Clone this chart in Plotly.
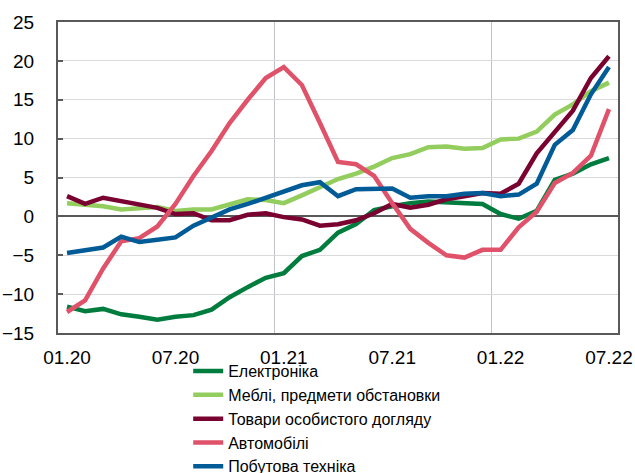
import plotly.graph_objects as go

# Month categories 01.20 .. 07.22
months = [f"{m:02d}.{y}" for y in (20, 21, 22) for m in range(1, 13)][:31]
tick_labels = ["01.20", "07.20", "01.21", "07.21", "01.22", "07.22"]

electronics = [-11.6, -12.2, -11.9, -12.6, -12.9, -13.3, -12.9, -12.7, -12.0, -10.4,
               -9.1, -7.9, -7.3, -5.1, -4.3, -2.1, -1.0, 0.8, 1.3, 1.7,
               1.9, 1.8, 1.7, 1.6, 0.3, -0.3, 0.7, 4.7, 5.5, 6.7, 7.5]
furniture = [1.7, 1.5, 1.3, 0.9, 1.0, 1.2, 0.7, 0.9, 0.9, 1.5,
             2.2, 2.1, 1.7, 2.7, 3.8, 4.8, 5.5, 6.4, 7.5, 8.0,
             8.9, 9.0, 8.7, 8.8, 9.9, 10.0, 10.9, 13.1, 14.4, 16.1, 17.2]
personal_care = [2.6, 1.6, 2.4, 2.0, 1.5, 1.1, 0.3, 0.4, -0.5, -0.5,
                 0.2, 0.4, -0.1, -0.4, -1.2, -1.0, -0.5, 0.4, 1.6, 1.1,
                 1.5, 2.2, 2.6, 3.0, 2.9, 4.2, 8.1, 10.8, 13.6, 17.8, 20.6]
cars = [-12.3, -10.8, -6.7, -3.2, -2.8, -1.3, 1.6, 5.2, 8.4, 12.0,
        15.0, 17.8, 19.2, 16.9, 12.0, 7.0, 6.7, 5.2, 1.7, -1.6,
        -3.4, -5.0, -5.3, -4.3, -4.3, -1.4, 0.6, 4.3, 5.6, 7.8, 13.8]
appliances = [-4.7, -4.3, -4.0, -2.6, -3.3, -3.0, -2.7, -1.2, -0.2, 0.9,
              1.6, 2.4, 3.3, 4.0, 4.4, 2.6, 3.5, 3.6, 3.6, 2.4,
              2.6, 2.6, 2.9, 3.0, 2.6, 2.8, 4.2, 9.2, 11.1, 15.7, 19.2]

series = [
    ("Електроніка", electronics, "#007D3E"),
    ("Меблі, предмети обстановки", furniture, "#92CD5E"),
    ("Товари особистого догляду", personal_care, "#7A0231"),
    ("Автомобілі", cars, "#E0516A"),
    ("Побутова техніка", appliances, "#005B97"),
]

x = list(range(len(months)))
tick_vals = [months.index(t) for t in tick_labels]

fig = go.Figure()
for name, vals, color in series:
    fig.add_trace(go.Scatter(
        x=x, y=vals, name=name, mode="lines",
        line=dict(color=color, width=4.5),
        hovertext=months,
    ))

font = dict(family="Liberation Sans, Arial, sans-serif", color="#000000")

fig.update_layout(
    width=635, height=473,
    margin=dict(l=58, r=17, t=22, b=140, autoexpand=False),
    plot_bgcolor="white", paper_bgcolor="white",
    font=dict(**font, size=18),
    showlegend=True,
    legend=dict(
        x=0.2325, y=-0.068, xanchor="left", yanchor="top",
        font=dict(**font, size=16),
        bgcolor="rgba(0,0,0,0)", tracegroupgap=0,
    ),
    xaxis=dict(
        range=[-0.5, len(months) - 0.5],
        tickmode="array", tickvals=tick_vals, ticktext=tick_labels,
        showgrid=False, zeroline=False,
        showline=True, mirror=True, linecolor="#595959", linewidth=2,
        ticks="", tickfont=dict(**font, size=19),
        ticklabelstandoff=6,
        minor=dict(tickmode="array", tickvals=[11.5, 23.5], showgrid=True,
                   gridcolor="#BFC3C8", gridwidth=1, ticks=""),
    ),
    yaxis=dict(
        range=[-15, 25], dtick=5, tick0=0,
        showgrid=True, gridcolor="#D9D9D9", gridwidth=1,
        zeroline=True, zerolinecolor="#595959", zerolinewidth=2,
        showline=True, mirror=True, linecolor="#595959", linewidth=2,
        ticks="inside", ticklen=5, tickwidth=2, tickcolor="#595959",
        ticklabelstandoff=18,
        tickfont=dict(**font, size=19),
    ),
)

fig.write_html(
    "out.html",
    config={"displayModeBar": False},
    post_script="document.body.style.margin='0';document.body.style.overflow='hidden';",
)
